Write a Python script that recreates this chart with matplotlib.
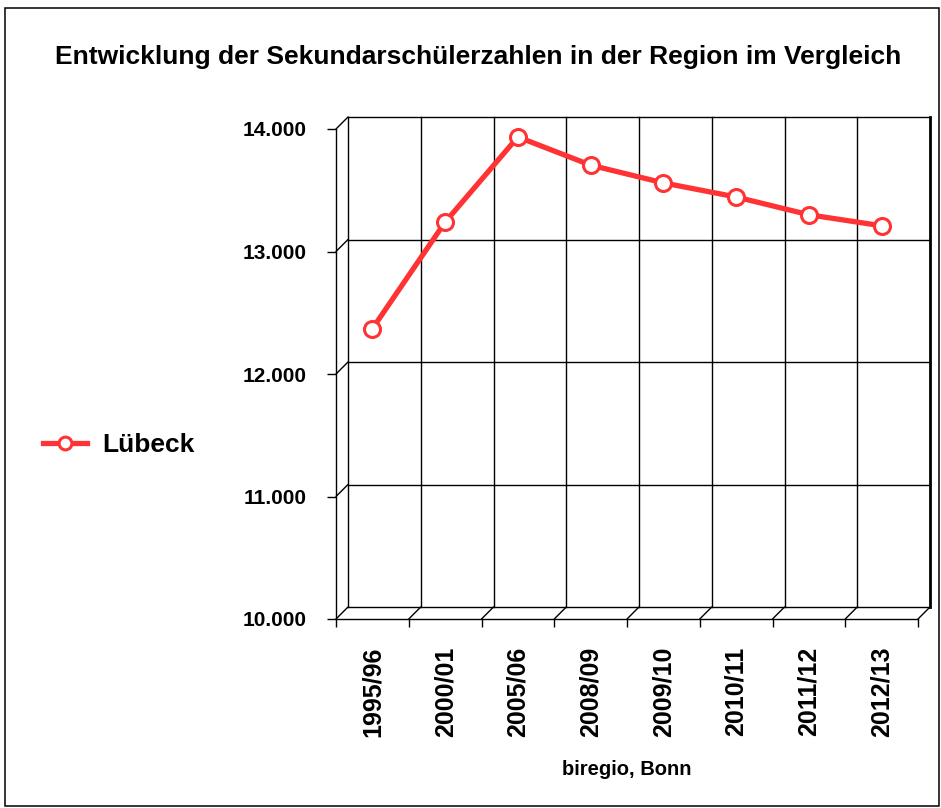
import matplotlib.pyplot as plt
import matplotlib.patches as patches
import matplotlib.transforms as mtransforms

plt.rcParams['font.family'] = ['Liberation Sans', 'DejaVu Sans']
plt.rcParams['font.weight'] = 'bold'

# data
years = ['1995/96', '2000/01', '2005/06', '2008/09', '2009/10', '2010/11', '2011/12', '2012/13']
luebeck = [12370, 13240, 13935, 13705, 13560, 13445, 13300, 13210]
yticks = [10000, 11000, 12000, 13000, 14000]
ytick_labels = ['10.000', '11.000', '12.000', '13.000', '14.000']

W, H = 941, 808
fig = plt.figure(figsize=(W / 100, H / 100), dpi=100)
ax = fig.add_axes([336 / W, 1 - 619 / H, (918 - 336) / W, (619 - 129) / H])
ax.set_xlim(0, len(years))
ax.set_ylim(10000, 14000)
ax.patch.set_visible(False)

# back wall, shifted up/right to fake depth
depth = 12
back = ax.transData + mtransforms.ScaledTranslation(depth / 100, depth / 100, fig.dpi_scale_trans)
for y in yticks:
    ax.plot([0, len(years)], [y, y], color='black', lw=1, transform=back, clip_on=False, zorder=1)
for i in range(len(years) + 1):
    lw = 2 if i == len(years) else 1
    ax.plot([i, i], [10000, 14000], color='black', lw=lw, transform=back, clip_on=False, zorder=1)

# diagonals from front ticks to back wall
for y in yticks:
    ax.annotate('', xy=(0, y), xytext=(depth, depth), textcoords='offset pixels',
                arrowprops=dict(arrowstyle='-', lw=1, color='black', shrinkA=0, shrinkB=0),
                annotation_clip=False)
for i in range(1, len(years) + 1):
    ax.annotate('', xy=(i, 10000), xytext=(depth, depth), textcoords='offset pixels',
                arrowprops=dict(arrowstyle='-', lw=1, color='black', shrinkA=0, shrinkB=0),
                annotation_clip=False)

# front axes
for s in ['top', 'right']:
    ax.spines[s].set_visible(False)
for s in ['left', 'bottom']:
    ax.spines[s].set_linewidth(1)

ax.set_yticks(yticks)
ax.set_yticklabels(ytick_labels, fontsize=15, fontweight='bold')
ax.tick_params(axis='y', direction='out', length=6.5, width=1, pad=15)

ax.set_xticks(range(len(years) + 1))
ax.set_xticklabels([])
ax.tick_params(axis='x', which='major', direction='out', length=6, width=1)
ax.set_xticks([i + 0.5 for i in range(len(years))], minor=True)
ax.set_xticklabels(years, minor=True, rotation=90, fontsize=18, fontweight='bold')
ax.tick_params(axis='x', which='minor', length=0, pad=20)

line, = ax.plot([i + 0.5 for i in range(len(years))], luebeck, color='#ff3333', lw=3.8,
                marker='o', markersize=11.5, markerfacecolor='white',
                markeredgecolor='#ff3333', markeredgewidth=2.2, clip_on=False, zorder=5,
                label='Lübeck')

ax.set_xlabel('biregio, Bonn', fontsize=14.5, fontweight='bold')
ax.xaxis.set_label_coords(0.5, -0.308)
ax.xaxis.label.set_va('center')

fig.text(478 / W, 1 - 57 / H, 'Entwicklung der Sekundarschülerzahlen in der Region im Vergleich',
         ha='center', va='center', fontsize=19, fontweight='bold')

leg = fig.legend(handles=[line], loc='center left', bbox_to_anchor=(43 / W, 1 - 445 / H),
                 frameon=False, fontsize=19, handlelength=1.65, handletextpad=0.6,
                 borderpad=0, borderaxespad=0, markerscale=0.8)
for t in leg.get_texts():
    t.set_fontweight('bold')

fig.patches.append(patches.Rectangle((5 / W, 1 - 806 / H), 934 / W, 798 / H,
                                     transform=fig.transFigure, fill=False,
                                     edgecolor='black', lw=1.1))

fig.savefig('out.png', dpi=100)
